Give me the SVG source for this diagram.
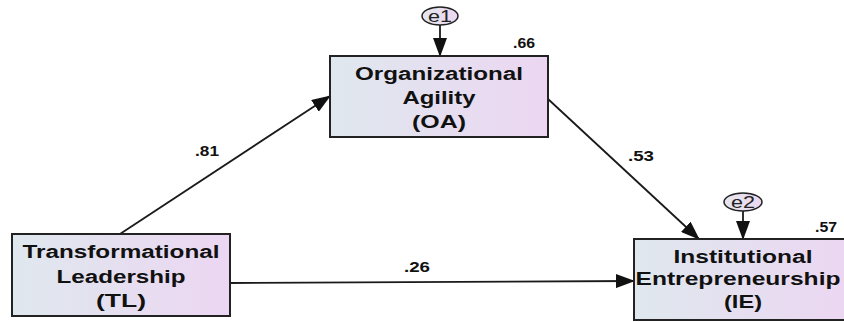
<svg xmlns="http://www.w3.org/2000/svg" width="844" height="322" viewBox="0 0 844 322">
<defs>
<linearGradient id="boxfill" x1="0" y1="0" x2="1" y2="0">
<stop offset="0" stop-color="#dfe8ee"/>
<stop offset="1" stop-color="#ecd6f2"/>
</linearGradient>
<linearGradient id="errfill" x1="0" y1="0" x2="1" y2="0">
<stop offset="0" stop-color="#e4e6ee"/>
<stop offset="1" stop-color="#ecd8f0"/>
</linearGradient>
<marker id="arr" markerUnits="userSpaceOnUse" markerWidth="19" markerHeight="14" viewBox="0 0 19 14" refX="18" refY="7" orient="auto">
<path d="M0,0 L19,7 L0,14 Z" fill="#111"/>
</marker>
<style>
.box{fill:url(#boxfill);stroke:#222;stroke-width:2}
.err{fill:url(#errfill);stroke:#222;stroke-width:1.5}
.lbl{font-family:"Liberation Sans",Arial,sans-serif;font-weight:bold;font-size:18px;fill:#111;text-anchor:middle}
.num{font-family:"Liberation Sans",Arial,sans-serif;font-weight:bold;font-size:15px;fill:#111}
.etx{font-family:"Liberation Sans",Arial,sans-serif;font-size:17px;fill:#222;text-anchor:middle}
.con{stroke:#1a1a1a;stroke-width:1.8;fill:none;marker-end:url(#arr)}
</style>
</defs>
<rect width="844" height="322" fill="#fff"/>
<g id="connectors">
<line class="con" x1="120" y1="234" x2="330" y2="96"/>
<line class="con" x1="548" y1="99" x2="699" y2="239"/>
<line class="con" x1="230" y1="283" x2="634" y2="281"/>
<line class="con" x1="440" y1="25" x2="440" y2="56"/>
<line class="con" x1="743" y1="211" x2="743" y2="239"/>
<text class="num" x="195" y="156" textLength="24" lengthAdjust="spacingAndGlyphs">.81</text>
<text class="num" x="628" y="161" textLength="26" lengthAdjust="spacingAndGlyphs">.53</text>
<text class="num" x="404" y="272" textLength="26" lengthAdjust="spacingAndGlyphs">.26</text>
</g>
<g id="TL">
<rect class="box" x="12" y="234" width="218" height="82"/>
<text class="lbl" x="121" y="258" textLength="197" lengthAdjust="spacingAndGlyphs">Transformational</text>
<text class="lbl" x="121" y="283" textLength="129" lengthAdjust="spacingAndGlyphs">Leadership</text>
<text class="lbl" x="121" y="307" textLength="50" lengthAdjust="spacingAndGlyphs">(TL)</text>
</g>
<g id="OA">
<rect class="box" x="330" y="56" width="218" height="81"/>
<text class="lbl" x="439" y="80" textLength="168" lengthAdjust="spacingAndGlyphs">Organizational</text>
<text class="lbl" x="439" y="104" textLength="73" lengthAdjust="spacingAndGlyphs">Agility</text>
<text class="lbl" x="439" y="128" textLength="54" lengthAdjust="spacingAndGlyphs">(OA)</text>
<text class="num" x="513" y="48" textLength="22" lengthAdjust="spacingAndGlyphs">.66</text>
</g>
<g id="e1">
<ellipse class="err" cx="440" cy="16" rx="18" ry="9"/>
<text class="etx" x="440" y="22" textLength="24" lengthAdjust="spacingAndGlyphs">e1</text>
</g>
<g id="IE">
<rect class="box" x="634" y="239" width="218" height="81"/>
<text class="lbl" x="743" y="263" textLength="139" lengthAdjust="spacingAndGlyphs">Institutional</text>
<text class="lbl" x="738" y="285" textLength="205" lengthAdjust="spacingAndGlyphs">Entrepreneurship</text>
<text class="lbl" x="743" y="308" textLength="38" lengthAdjust="spacingAndGlyphs">(IE)</text>
<text class="num" x="815" y="232" textLength="22" lengthAdjust="spacingAndGlyphs">.57</text>
</g>
<g id="e2">
<ellipse class="err" cx="743" cy="202" rx="19" ry="9"/>
<text class="etx" x="743" y="208" textLength="24" lengthAdjust="spacingAndGlyphs">e2</text>
</g>
</svg>
